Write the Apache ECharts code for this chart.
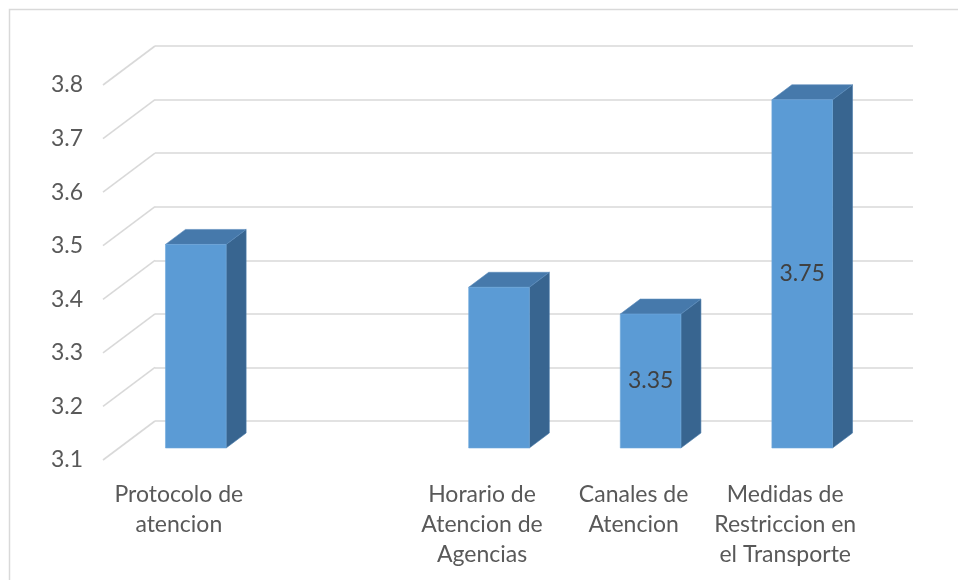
<!DOCTYPE html>
<html>
<head>
<meta charset="utf-8">
<script src="https://cdn.jsdelivr.net/npm/echarts@6/dist/echarts.min.js"></script>
<style>
  html, body { margin: 0; padding: 0; background: #ffffff; }
  #chart { width: 958px; height: 580px; }
</style>
</head>
<body>
<div id="chart"></div>
<script>
// Categories (the second slot is intentionally left empty)
var categories = [
  'Protocolo de\natencion',
  '',
  'Horario de\nAtencion de\nAgencias',
  'Canales de\nAtencion',
  'Medidas de\nRestriccion en\nel Transporte'
];
// Mean scores per category
var scores = [3.48, null, 3.40, 3.35, 3.75];
// Which bars carry a value label
var showValue = [false, false, false, true, true];
// Value axis ticks
var yTicks = [3.1, 3.2, 3.3, 3.4, 3.5, 3.6, 3.7, 3.8];

var Y_MIN = 3.1, Y_MAX = 3.8, Y_STEP = 0.1;
var FONT = 'Lato, "Open Sans", sans-serif';
var TEXT_GRAY = '#595959';
var GRID_GRAY = '#d9d9d9';

// Pseudo-3D depth of each bar, and of the floor relative to the back wall
var BAR_DX = 20, BAR_DY = -15;
var WALL_DX = -52, WALL_DY = 39;

var FRONT = '#5b9bd5';
var TOP = '#4679ab';
var SIDE = '#386590';

var chart = echarts.init(document.getElementById('chart'), null, { renderer: 'canvas' });

function valueAxis(gridIndex, showLabels) {
  return {
    type: 'value', gridIndex: gridIndex,
    min: Y_MIN, max: Y_MAX, interval: Y_STEP,
    axisLine: { show: false }, axisTick: { show: false },
    splitLine: gridIndex === 0
      ? { show: true, lineStyle: { color: GRID_GRAY, width: 1.6 } }
      : { show: false },
    axisLabel: showLabels
      ? { show: true, margin: 20, color: TEXT_GRAY, fontFamily: FONT, fontSize: 23,
          formatter: function (v) { return v.toFixed(1); } }
      : { show: false }
  };
}

function catAxis(gridIndex, showLabels) {
  return {
    type: 'category', gridIndex: gridIndex, data: categories,
    boundaryGap: true,
    axisLine: { show: false }, axisTick: { show: false }, splitLine: { show: false },
    axisLabel: showLabels
      ? { show: true, interval: 0, margin: 20, color: TEXT_GRAY, fontFamily: FONT,
          fontSize: 23, lineHeight: 30, align: 'center' }
      : { show: false }
  };
}

// Diagonal floor lines joining each back-wall gridline to the front of the floor
function renderDiagonal(params, api) {
  var p = api.coord([0, api.value(1)]);
  var x0 = params.coordSys.x;
  return {
    type: 'line',
    shape: { x1: x0, y1: p[1], x2: x0 + WALL_DX, y2: p[1] + WALL_DY },
    style: { stroke: GRID_GRAY, lineWidth: 1.6 },
    silent: true
  };
}

// Box-shaped bar: front face, top face and right side face
function renderBar(params, api) {
  var idx = api.value(0);
  var val = api.value(1);
  if (val == null || isNaN(val)) return null;
  var top = api.coord([idx, val]);
  var base = api.coord([idx, Y_MIN]);
  var band = api.size([1, 0])[0];
  var w = band * 0.40;
  var x0 = top[0] - w / 2, x1 = top[0] + w / 2;
  var yT = top[1], yB = base[1];
  var children = [
    {
      type: 'polygon',
      shape: { points: [[x1, yT], [x1 + BAR_DX, yT + BAR_DY], [x1 + BAR_DX, yB + BAR_DY], [x1, yB]] },
      style: { fill: SIDE, stroke: '#4a7cab', lineWidth: 0.6 }
    },
    {
      type: 'polygon',
      shape: { points: [[x0, yT], [x1, yT], [x1 + BAR_DX, yT + BAR_DY], [x0 + BAR_DX, yT + BAR_DY]] },
      style: { fill: TOP, stroke: '#5a8cbc', lineWidth: 0.6 }
    },
    {
      type: 'rect',
      shape: { x: x0, y: yT, width: w, height: yB - yT },
      style: { fill: FRONT, stroke: '#6fa8dc', lineWidth: 0.6 }
    }
  ];
  if (showValue[idx]) {
    children.push({
      type: 'text',
      style: {
        text: val.toFixed(2),
        x: top[0], y: (yT + yB) / 2,
        align: 'center', verticalAlign: 'middle',
        fill: '#404040', font: '23px ' + FONT
      }
    });
  }
  return { type: 'group', children: children };
}

var option = {
  backgroundColor: '#ffffff',
  animation: false,
  grid: [
    // back wall
    { left: 155, top: 46, width: 758, height: 375 },
    // plane of the bars' front faces
    { left: 120, top: 73, width: 758, height: 375 },
    // front edge of the floor, carries the axis labels
    { left: 103, top: 85, width: 758, height: 375 }
  ],
  xAxis: [catAxis(0, false), catAxis(1, false), catAxis(2, true)],
  yAxis: [valueAxis(0, false), valueAxis(1, false), valueAxis(2, true)],
  graphic: [
    { type: 'polyline', silent: true,
      shape: { points: [[9.5, 580], [9.5, 9.5], [958, 9.5]] },
      style: { stroke: GRID_GRAY, lineWidth: 1.5, fill: null } }
  ],
  series: [
    {
      type: 'custom', xAxisIndex: 0, yAxisIndex: 0,
      renderItem: renderDiagonal,
      data: yTicks.map(function (t) { return [0, t]; }),
      silent: true, z: 1
    },
    {
      type: 'custom', xAxisIndex: 1, yAxisIndex: 1,
      renderItem: renderBar,
      data: scores.map(function (s, i) { return [i, s == null ? NaN : s]; }),
      z: 5
    }
  ]
};

chart.setOption(option);
</script>
</body>
</html>
